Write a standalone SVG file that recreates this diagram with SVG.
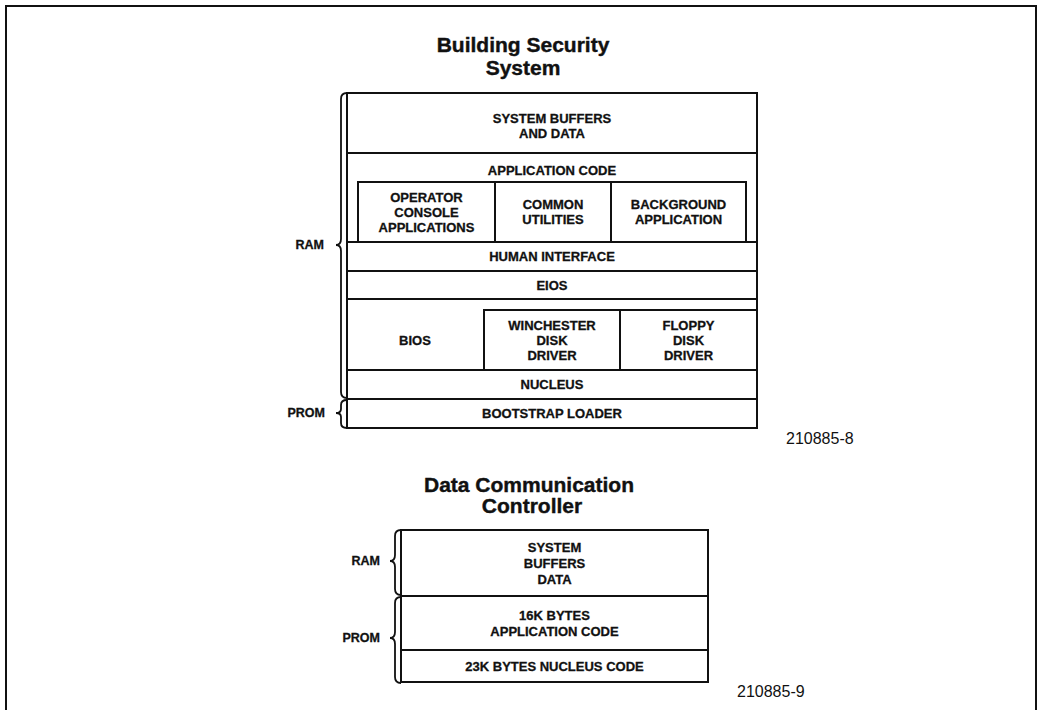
<svg xmlns="http://www.w3.org/2000/svg" width="1039" height="710" viewBox="0 0 1039 710">
<style>
.bx{fill:none;stroke:#111;stroke-width:2}
.ln{stroke:#111;stroke-width:2;fill:none}
.br{stroke:#111;stroke-width:1.8;fill:none}
.t{font-family:"Liberation Sans",Arial,sans-serif;font-weight:bold;font-size:13px;fill:#111;stroke:#111;stroke-width:0.3;text-anchor:middle}
.lb{font-family:"Liberation Sans",Arial,sans-serif;font-weight:bold;font-size:12.5px;fill:#111;stroke:#111;stroke-width:0.3;text-anchor:end}
.ti{font-family:"Liberation Sans",Arial,sans-serif;font-weight:bold;font-size:21px;fill:#111;stroke:#111;stroke-width:0.4;text-anchor:middle}
.fn{font-family:"Liberation Sans",Arial,sans-serif;font-size:16px;fill:#111}
</style>
<rect width="1039" height="710" fill="#fff"/>
<g id="frame"><path class="ln" d="M6 710 V6 H1037 M1036 6 V710"/></g>

<g id="title1"><text class="ti" x="523" y="52">Building Security</text><text class="ti" x="523" y="75">System</text></g>

<g id="bss-box"><rect class="bx" x="347" y="93" width="410" height="335"/></g>
<g id="sys-buffers"><line class="ln" x1="347" y1="153" x2="757" y2="153"/><text class="t" x="552" y="123">SYSTEM BUFFERS</text><text class="t" x="552" y="138">AND DATA</text></g>
<g id="app-code"><text class="t" x="552" y="175">APPLICATION CODE</text></g>
<g id="operator-console"><rect class="bx" x="358" y="182" width="137" height="60"/><text class="t" x="426.5" y="202">OPERATOR</text><text class="t" x="426.5" y="217">CONSOLE</text><text class="t" x="426.5" y="232">APPLICATIONS</text></g>
<g id="common-utilities"><rect class="bx" x="495" y="182" width="116" height="60"/><text class="t" x="553" y="209">COMMON</text><text class="t" x="553" y="224">UTILITIES</text></g>
<g id="background-app"><rect class="bx" x="611" y="182" width="135" height="60"/><text class="t" x="678.5" y="209">BACKGROUND</text><text class="t" x="678.5" y="224">APPLICATION</text></g>
<g id="human-interface"><line class="ln" x1="347" y1="242" x2="757" y2="242"/><text class="t" x="552" y="261">HUMAN INTERFACE</text></g>
<g id="eios"><line class="ln" x1="347" y1="271" x2="757" y2="271"/><text class="t" x="552" y="290">EIOS</text></g>
<g id="bios"><line class="ln" x1="347" y1="299" x2="757" y2="299"/><text class="t" x="415" y="345">BIOS</text></g>
<g id="winchester"><rect class="bx" x="484" y="310" width="136" height="60"/><text class="t" x="552" y="330">WINCHESTER</text><text class="t" x="552" y="345">DISK</text><text class="t" x="552" y="360">DRIVER</text></g>
<g id="floppy"><rect class="bx" x="620" y="310" width="137" height="60"/><text class="t" x="688.5" y="330">FLOPPY</text><text class="t" x="688.5" y="345">DISK</text><text class="t" x="688.5" y="360">DRIVER</text></g>
<g id="nucleus"><line class="ln" x1="347" y1="370" x2="757" y2="370"/><text class="t" x="552" y="389">NUCLEUS</text></g>
<g id="bootstrap"><line class="ln" x1="347" y1="399" x2="757" y2="399"/><text class="t" x="552" y="418">BOOTSTRAP LOADER</text></g>

<g id="braces">
<path class="br" d="M347 93 Q341 93 341 99 L341 239 Q341 245 336 245 Q341 245 341 251 L341 392 Q341 398 347 398"/>
<path class="br" d="M347 400 Q341 400 341 405 L341 409 Q341 413 336 413 Q341 413 341 417 L341 423 Q341 428 347 428"/>
<path class="br" d="M401 530 Q395 530 395 536 L395 555 Q395 561 390 561 Q395 561 395 567 L395 589 Q395 595 401 595"/>
<path class="br" d="M401 597 Q395 597 395 603 L395 632 Q395 638 390 638 Q395 638 395 644 L395 677 Q395 683 401 683"/>
</g>
<g id="labels1"><text class="lb" x="324" y="249">RAM</text><text class="lb" x="325" y="417">PROM</text></g>
<g id="fig8"><text class="fn" x="786" y="444">210885-8</text></g>

<g id="title2"><text class="ti" x="529" y="492">Data Communication</text><text class="ti" x="532" y="513">Controller</text></g>
<g id="dcc-box"><rect class="bx" x="401" y="530" width="307" height="152"/></g>
<g id="dcc-buffers"><text class="t" x="554.5" y="552">SYSTEM</text><text class="t" x="554.5" y="568">BUFFERS</text><text class="t" x="554.5" y="584">DATA</text></g>
<g id="dcc-app"><line class="ln" x1="401" y1="596" x2="708" y2="596"/><text class="t" x="554.5" y="620">16K BYTES</text><text class="t" x="554.5" y="636">APPLICATION CODE</text></g>
<g id="dcc-nucleus"><line class="ln" x1="401" y1="650" x2="708" y2="650"/><text class="t" x="554.5" y="671">23K BYTES NUCLEUS CODE</text></g>
<g id="labels2"><text class="lb" x="380" y="565">RAM</text><text class="lb" x="380" y="642">PROM</text></g>
<g id="fig9"><text class="fn" x="737" y="697">210885-9</text></g>
</svg>
